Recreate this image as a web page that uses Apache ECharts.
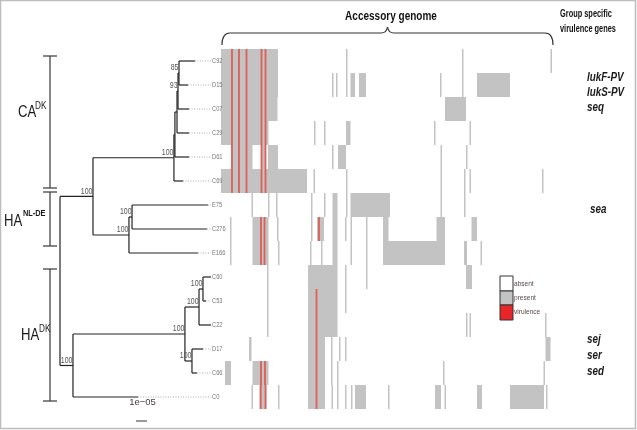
<!DOCTYPE html>
<html><head><meta charset="utf-8">
<script src="https://cdn.jsdelivr.net/npm/echarts/dist/echarts.min.js"></script>
<style>html,body{margin:0;padding:0;background:#fff}#c{width:637px;height:430px}</style>
</head><body><div id="c"></div>
<script>
// ---------- Tree data (branch depths in units of 1e-05 substitutions/site) ----------
const tipNames  = ['C92','D15','C07','C29','D61','C69','E75','C276','E166','C60','C53','C22','D17','C66','C0'];
const tipParent = ['n1','n1','n2','n3','n4','CA','n5','n5','B','n7','n7','n6','n8','n8','HADK'];
const tipDepth  = [12.27,11.64,11.73,11.73,11.73,11.18,13.45,13.36,12.55,13.73,13.27,13.73,13.0,12.45,7.09];
const nodeName    = ['root','A','CA','n4','n3','n2','n1','B','n5','HADK','C','n6','n7','n8'];
const nodeParent  = [null,'root','A','CA','n4','n3','n2','A','B','root','HADK','C','n6','C'];
const nodeDepth   = [0,3.0,10.36,10.45,10.64,10.73,10.82,6.27,6.55,1.18,11.36,12.64,13.0,12.0];
const nodeSupport = [null,100,100,null,null,93,85,100,100,100,100,100,100,100];
const scaleBarStart = 6.91, scaleBarLen = 1, scaleBarLabel = '1e\u221205';
const treeMax = 13.73;

// ---------- Accessory genome presence/absence (gene column index 0..332) ----------
const geneCount = 332;
const present = [
 [[0,57],[125,126.5],[241,242.5],[329.5,331]],
 [[0,57],[111,112.5],[115,116.5],[125,126.5],[129.5,134],[138,145],[219,220.5],[241,242.5],[256,289]],
 [[0,56.5],[224,245]],
 [[0,47.5],[93,94.5],[103,104.5],[125,129.5],[213,214.5],[248.5,250]],
 [[10,31.5],[41,45],[47,57],[111,112.5],[117,125],[219.5,221],[245,246.5]],
 [[0,86],[92.5,94],[125,126.5],[219.5,221],[243,244.5],[248.5,250],[321,322.5]],
 [[30.5,32],[47,48.5],[55,56.5],[90,91.5],[103,104.5],[111.5,116.5],[125,126.5],[129.5,169],[219.5,221],[243,244.5]],
 [[9,10.5],[31.5,47.5],[56,57.5],[90,91.5],[96,103],[111.5,116.5],[124,125.5],[129.5,131],[145,146.5],[162,167.5],[215.5,224],[250.5,256]],
 [[9,10.5],[31.5,47.5],[57,58.5],[89,90.5],[100,101.5],[111.5,116.5],[129.5,131],[145,146.5],[162,224],[243,246],[259.5,261]],
 [[46,47.5],[87,116.5],[124,125.5],[145,146.5],[245,251]],
 [[46,47.5],[87,116.5],[124,125.5]],
 [[46,47.5],[87,116.5],[245,246.5],[248.5,250],[324,325.5]],
 [[28,30.5],[87,104],[110,111.5],[118,119.5],[124,125.5],[324.5,329.5]],
 [[4,10],[31.5,47.5],[87,104],[110,111.5],[116,117.5],[222,223.5],[322.5,324]],
 [[30.5,32],[38.5,45.5],[57,58.5],[87,104],[110.5,112],[116,117.5],[124,125.5],[130,131.5],[134,145],[167,168.5],[214,220],[223.5,225],[256,261],[289,323],[325,326.5]]
];
const virulence = [
 [11,18,25.5,40.5,44.5],[11,18,25.5,40.5,44.5],[11,18,25.5,40.5,44.5],
 [11,18,25.5,40.5,44.5],[11,18,25.5,40.5,44.5],[11,18,25.5,40.5,44.5],
 [],[40,43.5,98],[40,43.5],
 [],[95.5],[95.5],[95.5],[40,44,95.5],[39.7,44.5,95.5]
];
const groupGenes = [['lukF-PV',78],['lukS-PV',93],['seq',108],['sea',210],['sej',340],['ser',356],['sed',372]];
const legendItems = ['absent','present','virulence'];

// ---------- layout of tree ----------
const allDepth = {}, allParent = {}, ys = {};
nodeName.forEach((n,i)=>{allDepth[n]=nodeDepth[i]; allParent[n]=nodeParent[i];});
tipNames.forEach((n,i)=>{allDepth[n]=tipDepth[i]; allParent[n]=tipParent[i]; ys[n]=i;});
const children = {};
Object.keys(allParent).forEach(k=>{const p=allParent[k]; if(p){(children[p]=children[p]||[]).push(k);}});
function yOf(n){ if(ys[n]!==undefined) return ys[n]; const c=children[n].map(yOf); ys[n]=(Math.min(...c)+Math.max(...c))/2; return ys[n]; }
yOf('root');
const edges = [];
Object.keys(allParent).forEach(k=>{const p=allParent[k]; if(p) edges.push([allDepth[p],ys[k],allDepth[k],ys[k]]);});
Object.keys(children).forEach(k=>{const c=children[k].map(x=>ys[x]); edges.push([allDepth[k],Math.min(...c),allDepth[k],Math.max(...c)]);});
const dotted = tipNames.map((n,i)=>[tipDepth[i],i,treeMax,i]);
const supports = nodeName.map((n,i)=>[nodeDepth[i],ys[n],nodeSupport[i]]).filter(d=>d[2]!=null);

const heatData=[]; present.forEach((row,r)=>row.forEach(s=>heatData.push([r,s[0],s[1]])));
const virData=[]; virulence.forEach((row,r)=>row.forEach(p=>virData.push([r,p])));

const FONT = "'Liberation Sans',Arial,sans-serif";
const NX = 0.82; // horizontal squeeze to imitate a narrow typeface
const rowAxis = gi => ({type:'value',gridIndex:gi,min:-0.5,max:14.5,inverse:true,show:false});
const lineItem = (color,w,dash)=>(p,api)=>{
  const a=api.coord([api.value(0),api.value(1)]), b=api.coord([api.value(2),api.value(3)]);
  return {type:'line',shape:{x1:a[0],y1:a[1],x2:b[0],y2:b[1]},style:{stroke:color,lineWidth:w,lineDash:dash||null}};
};
const txt = (s,x,y,font,fill,align,sx)=>({type:'text',x:x,y:y,scaleX:sx||NX,silent:true,
  style:{text:s,font:font,fill:fill,textAlign:align||'left',textVerticalAlign:'middle'}});
const ln = (x1,y1,x2,y2,c,w)=>({type:'line',silent:true,shape:{x1,y1,x2,y2},style:{stroke:c||'#444',lineWidth:w||1.3}});
const bz = (x1,y1,cx,cy,x2,y2)=>({type:'bezierCurve',silent:true,shape:{x1,y1,x2,y2,cpx1:cx,cpy1:cy},style:{stroke:'#333',lineWidth:1.2,fill:'none'}});

const graphic = [
 {type:'rect',silent:true,shape:{x:0.5,y:0.5,width:635,height:428},style:{fill:'none',stroke:'#bdbdbd',lineWidth:1.5}},
 txt('Accessory genome',391,16,"bold 13px "+FONT,'#111','center',0.77),
 txt('Group specific',560,14,"bold 10px "+FONT,'#111','left',0.74),
 txt('virulence genes',560,29,"bold 10px "+FONT,'#111','left',0.74),
 // brace
 bz(222,45,222,33,230,33), ln(230,33,381,33,'#333',1.2), bz(381,33,386.5,33,387.5,27),
 bz(387.5,27,388.5,33,394,33), ln(394,33,545,33,'#333',1.2), bz(545,33,553,33,553,45),
 // group bars
 ln(50,56,50,188), ln(43,56,57,56), ln(43,188,57,188),
 ln(50,192,50,246), ln(43,192,57,192), ln(43,246,57,246),
 ln(50,269,50,401), ln(43,269,57,269), ln(43,401,57,401),
 txt('CA',18,113,"16px "+FONT,'#1a1a1a'), txt('DK',35,106.5,"10px "+FONT,'#1a1a1a'),
 txt('HA',4,222,"16px "+FONT,'#1a1a1a'), txt('NL-DE',23,214,"bold 9px "+FONT,'#1a1a1a'),
 txt('HA',21,336,"16px "+FONT,'#1a1a1a'), txt('DK',39,329.5,"10px "+FONT,'#1a1a1a'),
 // legend
 {type:'rect',silent:true,shape:{x:500,y:276,width:13,height:15},style:{fill:'#fff',stroke:'#333',lineWidth:1}},
 {type:'rect',silent:true,shape:{x:500,y:291,width:13,height:14},style:{fill:'#c3c3c3',stroke:'#333',lineWidth:1}},
 {type:'rect',silent:true,shape:{x:500,y:305,width:13,height:15},style:{fill:'#e8262a',stroke:'#333',lineWidth:1}}
];
legendItems.forEach((t,i)=>graphic.push(txt(t,514,284+i*14,"8px "+FONT,'#5a4848')));
groupGenes.forEach(g=>graphic.push(txt(g[0],g[0]==='sea'?590:587,g[1],"italic bold 12px "+FONT,'#1a1a1a')));

const option = {
 animation:false,
 grid:[{left:60,top:49,width:151,height:360},{left:221,top:49,width:geneCount,height:360}],
 xAxis:[{type:'value',gridIndex:0,min:0,max:treeMax,show:false},{type:'value',gridIndex:1,min:0,max:geneCount,show:false}],
 yAxis:[rowAxis(0),rowAxis(1)],
 series:[
  {type:'custom',xAxisIndex:1,yAxisIndex:1,data:heatData,encode:{x:[1,2],y:0},renderItem:(p,api)=>{
     const r=api.value(0),a=api.coord([api.value(1),r-0.5]),b=api.coord([api.value(2),r+0.5]);
     return {type:'rect',shape:{x:a[0],y:a[1],width:b[0]-a[0],height:b[1]-a[1]},style:{fill:'#c3c3c3'}};}},
  {type:'custom',xAxisIndex:1,yAxisIndex:1,data:virData,encode:{x:1,y:0},renderItem:(p,api)=>{
     const r=api.value(0),a=api.coord([api.value(1),r-0.5]),b=api.coord([api.value(1),r+0.5]);
     return {type:'rect',shape:{x:a[0]-0.9,y:a[1],width:1.8,height:b[1]-a[1]},style:{fill:'#dd5f57'}};}},
  {type:'custom',xAxisIndex:0,yAxisIndex:0,data:dotted,encode:{x:[0,2],y:[1,3]},clip:false,renderItem:lineItem('#aaa',1,[1,1.5])},
  {type:'custom',xAxisIndex:0,yAxisIndex:0,data:edges,encode:{x:[0,2],y:[1,3]},clip:false,renderItem:lineItem('#222',1.2)},
  {type:'custom',xAxisIndex:0,yAxisIndex:0,data:tipNames.map((n,i)=>[treeMax,i]),clip:false,renderItem:(p,api)=>{
     const a=api.coord([api.value(0),api.value(1)]);
     return {type:'text',x:a[0]+1,y:a[1],scaleX:NX,style:{text:tipNames[p.dataIndex],font:"7px "+FONT,fill:'#777',textVerticalAlign:'middle'}};}},
  {type:'custom',xAxisIndex:0,yAxisIndex:0,data:supports,clip:false,renderItem:(p,api)=>{
     const a=api.coord([api.value(0),api.value(1)]);
     return {type:'text',x:a[0]-0.5,y:a[1]-0.5,scaleX:NX,style:{text:String(api.value(2)),font:"8.5px "+FONT,fill:'#555',textAlign:'right',textVerticalAlign:'bottom'}};}},
  {type:'custom',xAxisIndex:0,yAxisIndex:0,data:[[scaleBarStart,15,scaleBarStart+scaleBarLen,15]],clip:false,renderItem:(p,api)=>{
     const a=api.coord([api.value(0),api.value(1)]),b=api.coord([api.value(2),api.value(3)]);
     return {type:'group',children:[
       {type:'line',shape:{x1:a[0],y1:a[1],x2:b[0],y2:b[1]},style:{stroke:'#777',lineWidth:1.5}},
       {type:'text',x:(a[0]+b[0])/2+1,y:a[1]-19,style:{text:scaleBarLabel,font:"9.5px "+FONT,fill:'#4a3a3a',textAlign:'center',textVerticalAlign:'middle'}}]};}}
 ],
 graphic:graphic
};
const chart = echarts.init(document.getElementById('c'));
chart.setOption(option);
</script></body></html>
